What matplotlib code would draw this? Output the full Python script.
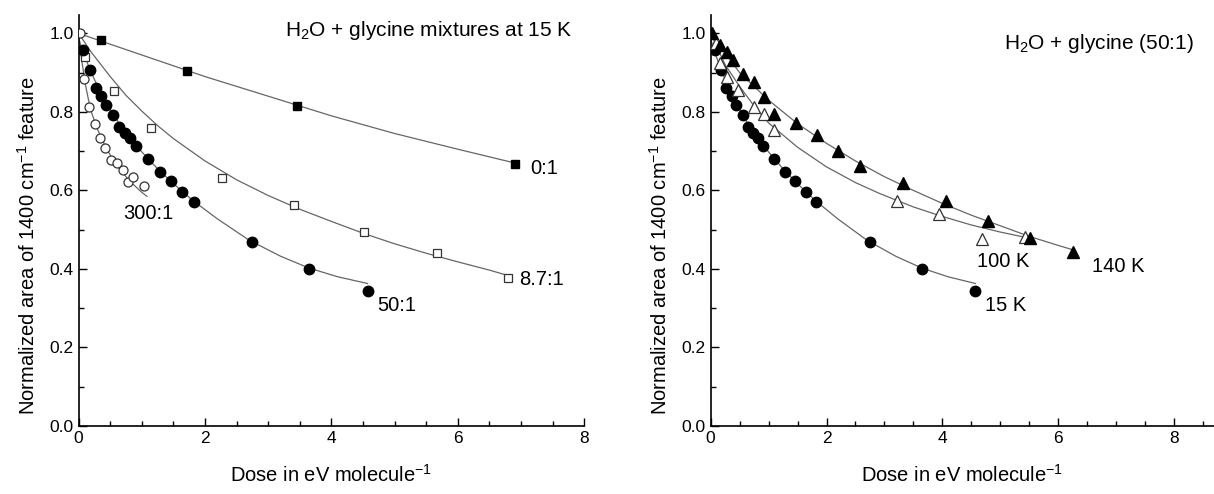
import matplotlib
matplotlib.use('Agg')
import matplotlib.pyplot as plt
from matplotlib.ticker import MultipleLocator, FormatStrFormatter

plt.rcParams['font.family'] = ['Liberation Sans', 'DejaVu Sans']
plt.rcParams['mathtext.fontset'] = 'custom'
plt.rcParams['mathtext.rm'] = 'Liberation Sans'
plt.rcParams['mathtext.default'] = 'regular'

# ---- left panel: H2O + glycine mixtures at 15 K ----
dose_01 = [0.35, 1.72, 3.46, 6.91]
area_01 = [0.982, 0.903, 0.816, 0.668]
fit_dose_01 = [0, 1, 2, 3, 4, 5, 6, 6.95]
fit_area_01 = [1.0, 0.945, 0.89, 0.84, 0.79, 0.745, 0.705, 0.668]

dose_87 = [0.10, 0.56, 1.14, 2.26, 3.40, 4.52, 5.67, 6.79]
area_87 = [0.940, 0.853, 0.758, 0.631, 0.564, 0.493, 0.440, 0.378]
fit_dose_87 = [0, 0.2, 0.5, 0.75, 1.0, 1.25, 1.5, 2.0, 2.5, 3.0, 3.5, 4.0, 4.5, 5.0,
               5.5, 6.0, 6.5, 6.8]
fit_area_87 = [1.0, 0.952, 0.89, 0.842, 0.802, 0.765, 0.732, 0.675, 0.627, 0.587, 0.552,
               0.521, 0.491, 0.464, 0.44, 0.418, 0.397, 0.383]

dose_50 = [0.07, 0.18, 0.27, 0.36, 0.44, 0.55, 0.64, 0.73, 0.82, 0.91, 1.10, 1.29,
           1.46, 1.64, 1.82, 2.75, 3.65, 4.57]
area_50 = [0.959, 0.908, 0.861, 0.840, 0.817, 0.792, 0.762, 0.747, 0.733, 0.714, 0.681,
           0.647, 0.624, 0.595, 0.570, 0.468, 0.401, 0.345]
fit_dose_50 = [0, 0.1, 0.2, 0.3, 0.4, 0.6, 0.8, 1.0, 1.25, 1.5, 1.8, 2.2, 2.7, 3.2,
               3.65, 4.1, 4.57]
fit_area_50 = [0.985, 0.94, 0.9, 0.865, 0.833, 0.78, 0.735, 0.698, 0.655, 0.617, 0.575,
               0.527, 0.473, 0.432, 0.402, 0.38, 0.363]

dose_300 = [0.02, 0.08, 0.17, 0.26, 0.34, 0.42, 0.51, 0.60, 0.70, 0.78, 0.86, 1.04]
area_300 = [1.0, 0.883, 0.813, 0.769, 0.733, 0.707, 0.677, 0.669, 0.652, 0.622, 0.635, 0.612]
fit_dose_300 = [0, 0.05, 0.1, 0.15, 0.2, 0.3, 0.4, 0.5, 0.6, 0.7, 0.8, 0.9, 1.0, 1.08]
fit_area_300 = [1.0, 0.93, 0.875, 0.835, 0.80, 0.755, 0.72, 0.69, 0.665, 0.645, 0.625,
                0.61, 0.595, 0.585]

# ---- right panel: H2O + glycine (50:1), temperature ----
dose_140 = [0.03, 0.16, 0.28, 0.38, 0.56, 0.75, 0.92, 1.09, 1.47, 1.84, 2.20, 2.57,
            3.32, 4.06, 4.78, 5.51, 6.25]
area_140 = [1.0, 0.970, 0.953, 0.932, 0.896, 0.877, 0.839, 0.796, 0.772, 0.741, 0.701,
            0.663, 0.618, 0.573, 0.522, 0.478, 0.442]
fit_dose_140 = [0, 0.5, 1.0, 1.5, 2.0, 2.5, 3.0, 3.5, 4.0, 4.5, 5.0, 5.5, 6.0, 6.25]
fit_area_140 = [1.0, 0.9, 0.83, 0.77, 0.72, 0.675, 0.635, 0.6, 0.567, 0.537, 0.51,
                0.483, 0.46, 0.449]

dose_100 = [0.09, 0.16, 0.28, 0.48, 0.74, 0.92, 1.09, 3.21, 3.95, 4.69, 5.42]
area_100 = [0.975, 0.925, 0.89, 0.857, 0.812, 0.795, 0.755, 0.573, 0.541, 0.476, 0.482]
fit_dose_100 = [0, 0.25, 0.5, 0.75, 1.0, 1.5, 2.0, 2.5, 2.92, 3.5, 3.95, 4.5, 5.0, 5.45]
fit_area_100 = [1.0, 0.92, 0.865, 0.815, 0.772, 0.71, 0.66, 0.62, 0.592, 0.558, 0.536,
                0.512, 0.494, 0.48]

line_kw = dict(color='#666666', lw=0.9, zorder=1)
label_size = 14.5


def style_axis(ax, xmax):
    ax.set_xlim(0, xmax)
    ax.set_ylim(0, 1.047)
    for s in ['top', 'right']:
        ax.spines[s].set_visible(False)
    for s in ['left', 'bottom']:
        ax.spines[s].set_linewidth(1.2)
    ax.xaxis.set_major_locator(MultipleLocator(2))
    ax.xaxis.set_minor_locator(MultipleLocator(0.5))
    ax.yaxis.set_major_locator(MultipleLocator(0.2))
    ax.yaxis.set_minor_locator(MultipleLocator(0.1))
    ax.yaxis.set_major_formatter(FormatStrFormatter('%.1f'))
    ax.tick_params(which='both', direction='in', labelsize=12.5, width=1)
    ax.tick_params(which='major', length=5.5)
    ax.tick_params(which='minor', length=3.5)
    ax.set_xlabel('Dose in eV molecule$^{-1}$', fontsize=14.5, labelpad=13)
    ax.set_ylabel('Normalized area of 1400 cm$^{-1}$ feature', fontsize=14.5)
    ax.yaxis.set_label_coords(-0.079, 0.44)


fig = plt.figure(figsize=(12.14, 4.94), dpi=100)
ax1 = fig.add_axes([0.0648, 0.1377, 0.4165, 0.8320])
ax2 = fig.add_axes([0.5854, 0.1377, 0.4146, 0.8320])

# left
ax1.plot(fit_dose_01, fit_area_01, **line_kw)
ax1.plot(fit_dose_87, fit_area_87, **line_kw)
ax1.plot(fit_dose_50, fit_area_50, **line_kw)
ax1.plot(fit_dose_300, fit_area_300, **line_kw)
ax1.plot(dose_01, area_01, 's', color='black', ms=6, zorder=3)
ax1.plot(dose_87, area_87, 's', mfc='white', mec='#333333', mew=0.9, ms=6, zorder=3)
ax1.plot(dose_50, area_50, 'o', color='black', ms=7.5, zorder=3)
ax1.plot(dose_300, area_300, 'o', mfc='white', mec='#333333', mew=0.9, ms=6.5, zorder=3)

ax1.text(3.26, 1.008, 'H$_2$O + glycine mixtures at 15 K', fontsize=15, va='center')
ax1.text(7.14, 0.657, '0:1', fontsize=label_size, va='center')
ax1.text(6.97, 0.372, '8.7:1', fontsize=label_size, va='center')
ax1.text(4.72, 0.306, '50:1', fontsize=label_size, va='center')
ax1.text(0.70, 0.542, '300:1', fontsize=label_size, va='center')
style_axis(ax1, 8)

# right
ax2.plot(fit_dose_140, fit_area_140, **line_kw)
ax2.plot(fit_dose_100, fit_area_100, **line_kw)
ax2.plot(fit_dose_50, fit_area_50, **line_kw)
ax2.plot(dose_50, area_50, 'o', color='black', ms=7.5, zorder=3)
ax2.plot(dose_100, area_100, '^', mfc='white', mec='#333333', mew=0.9, ms=8, zorder=3)
ax2.plot(dose_140, area_140, '^', color='black', ms=8, zorder=3)

ax2.text(5.07, 0.975, 'H$_2$O + glycine (50:1)', fontsize=15, va='center')
ax2.text(4.60, 0.418, '100 K', fontsize=label_size, va='center')
ax2.text(6.59, 0.407, '140 K', fontsize=label_size, va='center')
ax2.text(4.74, 0.306, '15 K', fontsize=label_size, va='center')
style_axis(ax2, 8.69)

fig.savefig('out.png', dpi=100)
